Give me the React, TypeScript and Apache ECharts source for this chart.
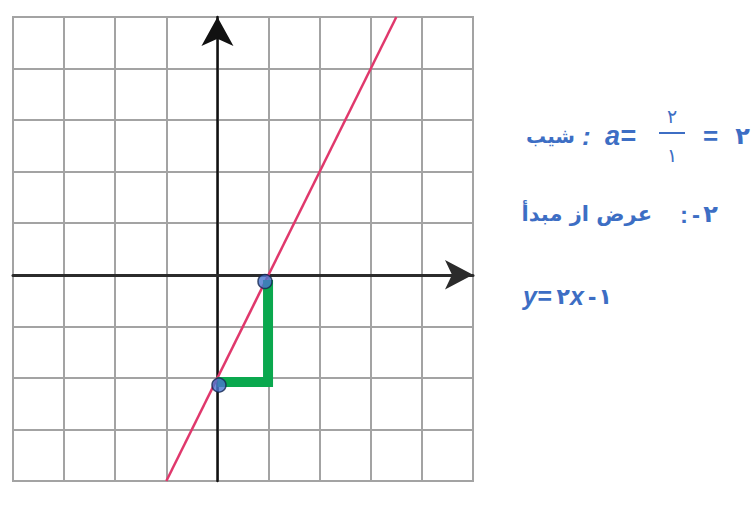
import { useEffect, useRef } from 'react';
import * as echarts from 'echarts';

// grid extent (one cell = one unit)
const xRange = [-4, 5];
const yRange = [-4, 5];

// y = 2x - 2 as drawn in the picture
const linePoints = [
  [-1, -4],
  [3.5, 5],
];

// green rise/run step
const stepPoints = [
  [0, -2.08],
  [0.99, -2.08],
  [0.99, -0.1],
];

// blue marked points
const markedPoints = [
  [0.03, -2.14],
  [0.93, -0.13],
];

const BLUE = '#3d6ec4';
const GRID_GRAY = '#a3a3a3';
const FA = '"DejaVu Sans", sans-serif';
const LATIN = '"Liberation Sans", "DejaVu Sans", sans-serif';

const txt = (
  x: number,
  y: number,
  text: string,
  opts: { size?: number; family?: string; weight?: string; italic?: boolean; align?: string } = {}
) => ({
  type: 'text',
  x,
  y,
  style: {
    text,
    fill: BLUE,
    fontSize: opts.size ?? 24,
    fontFamily: opts.family ?? FA,
    fontWeight: opts.weight ?? 'bold',
    fontStyle: opts.italic ? 'italic' : 'normal',
    textAlign: opts.align ?? 'left',
    textVerticalAlign: 'middle',
  },
});

export default function App() {
  const ref = useRef<HTMLDivElement>(null);

  useEffect(() => {
    document.body.style.margin = '0';
    if (!ref.current) return;
    const chart = echarts.init(ref.current, undefined, { renderer: 'svg' });

    const gridAxis = {
      type: 'value' as const,
      interval: 1,
      axisLine: { show: false },
      axisTick: { show: false },
      axisLabel: { show: false },
      splitLine: { show: true, lineStyle: { color: GRID_GRAY, width: 2 } },
      z: 0,
    };
    const arrowAxis = {
      type: 'value' as const,
      interval: 1,
      axisTick: { show: false },
      axisLabel: { show: false },
      splitLine: { show: false },
      z: 1,
    };

    chart.setOption({
      animation: false,
      backgroundColor: '#ffffff',
      grid: {
        left: 13,
        top: 17,
        width: 460,
        height: 464,
        show: true,
        borderColor: GRID_GRAY,
        borderWidth: 2,
      },
      xAxis: [
        { ...gridAxis, min: xRange[0], max: xRange[1] },
        {
          ...arrowAxis,
          min: xRange[0],
          max: xRange[1],
          axisLine: {
            show: true,
            onZero: true,
            onZeroAxisIndex: 1,
            symbol: ['none', 'arrow'],
            symbolSize: [22, 28],
            lineStyle: { color: '#2b2b2b', width: 3 },
          },
        },
      ],
      yAxis: [
        { ...gridAxis, min: yRange[0], max: yRange[1] },
        {
          ...arrowAxis,
          min: yRange[0],
          max: yRange[1],
          axisLine: {
            show: true,
            onZero: true,
            onZeroAxisIndex: 1,
            symbol: ['none', 'arrow'],
            symbolSize: [24, 29],
            lineStyle: { color: '#111111', width: 2.5 },
          },
        },
      ],
      series: [
        {
          type: 'line',
          data: linePoints,
          showSymbol: false,
          lineStyle: { color: '#e0386c', width: 2.5 },
          z: 3,
        },
        {
          type: 'line',
          data: stepPoints,
          showSymbol: false,
          lineStyle: { color: '#0aa84e', width: 10, join: 'miter', cap: 'butt' },
          z: 4,
        },
        {
          type: 'scatter',
          data: markedPoints,
          symbolSize: 14,
          itemStyle: { color: '#4a75cf', borderColor: '#14274f', borderWidth: 1.5 },
          z: 5,
        },
      ],
      graphic: {
        elements: [
          // line 1: slope
          txt(575, 136, 'شیب', { size: 20, align: 'right' }),
          txt(582, 136, ':', { family: LATIN, italic: true, size: 26 }),
          txt(605, 136, 'a=', { family: LATIN, italic: true, size: 27 }),
          txt(672, 116, '۲', { size: 19, weight: 'normal', align: 'center' }),
          {
            type: 'line',
            shape: { x1: 659, y1: 133, x2: 685, y2: 133 },
            style: { stroke: BLUE, lineWidth: 2 },
          },
          txt(672, 155, '۱', { size: 19, weight: 'normal', align: 'center' }),
          txt(703, 136, '=', { family: LATIN, size: 26 }),
          txt(750, 136, '۲', { size: 24, align: 'right' }),
          // line 2: intercept
          txt(652, 214, 'عرض از مبدأ', { size: 21, align: 'right' }),
          txt(680, 214, ':', { family: LATIN, size: 24 }),
          txt(692, 214, '-', { family: LATIN, size: 24 }),
          txt(718, 214, '۲', { size: 24, align: 'right' }),
          // line 3: equation
          txt(523, 296, 'y=', { family: LATIN, italic: true, size: 25 }),
          txt(570, 296, '۲', { size: 22, align: 'right' }),
          txt(570, 296, 'x', { family: LATIN, italic: true, size: 25 }),
          txt(588, 296, '-', { family: LATIN, size: 25 }),
          txt(612, 296, '۱', { size: 22, align: 'right' }),
        ],
      },
    });

    return () => {
      chart.dispose();
    };
  }, []);

  return <div ref={ref} style={{ width: 756, height: 516 }} />;
}
